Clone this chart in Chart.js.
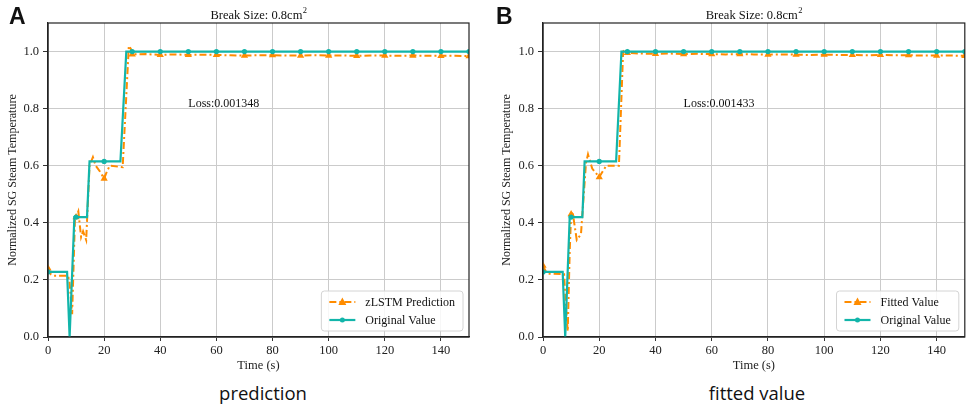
<!DOCTYPE html>
<html>
<head>
<meta charset="utf-8">
<script src="https://cdn.jsdelivr.net/npm/chart.js@4.4.0/dist/chart.umd.min.js"></script>
<style>
  body { margin: 0; background: #fff; width: 969px; height: 412px; overflow: hidden; position: relative; }
  .panel { position: absolute; top: 0; height: 373px; }
  #boxA { left: 0; width: 484px; }
  #boxB { left: 494px; width: 475px; }
  .tag { position: absolute; top: 3px; font: bold 23px 'Liberation Sans', Arial, sans-serif; color: #111; }
  .cap { position: absolute; top: 380px; width: 300px; text-align: center; font: 18.5px 'Open Sans', sans-serif; color: #111; }
</style>
</head>
<body>
<div class="panel" id="boxA"><canvas id="chartA"></canvas></div>
<div class="panel" id="boxB"><canvas id="chartB"></canvas></div>
<div class="tag" style="left:9px">A</div>
<div class="tag" style="left:496px">B</div>
<div class="cap" style="left:113px">prediction</div>
<div class="cap" style="left:607px">fitted value</div>

<script>
// ===========================
// DATA
// ===========================
const xTicks = [0, 20, 40, 60, 80, 100, 120, 140];
const yTicks = [0, 0.2, 0.4, 0.6, 0.8, 1.0];

// panel A - original value
const origTimeA = [0, 6.8, 7.7, 9.4, 10, 13.9, 14.8, 20, 25.8, 27.9, 30, 40, 50, 60, 70, 80, 90, 100, 110, 120, 130, 140, 150];
const origValA  = [0.228, 0.228, 0, 0.42, 0.42, 0.42, 0.615, 0.615, 0.615, 1.0, 1.0, 1.0, 1.0, 1.0, 1.0, 1.0, 1.0, 1.0, 1.0, 1.0, 1.0, 1.0, 1.0];

// panel A - zLSTM prediction
const predTimeA = [0, 1, 2, 7, 7.6, 8.6, 9.6, 10, 10.8, 11.8, 12.5, 13.6, 14.8, 16, 17, 18.5, 20, 21, 22, 26.6, 28.8, 29.5, 30,
                   35, 40, 45, 50, 55, 60, 65, 70, 75, 80, 85, 90, 95, 100, 105, 110, 115, 120, 125, 130, 135, 140, 145, 150];
const predValA  = [0.24, 0.22, 0.215, 0.215, 0.2, 0.08, 0.41, 0.42, 0.44, 0.35, 0.37, 0.34, 0.6, 0.63, 0.6, 0.58, 0.555, 0.58, 0.6, 0.595, 1.02, 1.01, 0.99,
                   0.991, 0.988, 0.99, 0.988, 0.989, 0.988, 0.987, 0.986, 0.987, 0.987, 0.986, 0.986, 0.987, 0.986, 0.986, 0.985, 0.986, 0.986, 0.985, 0.986, 0.985, 0.985, 0.985, 0.984];

// panel B - original value
const origTimeB = [0, 7, 7.9, 9.5, 10, 14, 14.8, 20, 26, 27.9, 30, 40, 50, 60, 70, 80, 90, 100, 110, 120, 130, 140, 150];
const origValB  = [0.228, 0.228, 0, 0.42, 0.42, 0.42, 0.615, 0.615, 0.615, 1.0, 1.0, 1.0, 1.0, 1.0, 1.0, 1.0, 1.0, 1.0, 1.0, 1.0, 1.0, 1.0, 1.0];

// panel B - fitted value
const predTimeB = [0, 1, 2, 7.5, 8.2, 8.8, 9.5, 10, 10.5, 12, 13.5, 15.3, 16, 17.5, 20, 22.5, 27, 28.5, 29, 30,
                   35, 40, 45, 50, 55, 60, 65, 70, 75, 80, 85, 90, 95, 100, 105, 110, 115, 120, 125, 130, 135, 140, 145, 150];
const predValB  = [0.25, 0.23, 0.222, 0.22, 0.1, 0.02, 0.3, 0.43, 0.44, 0.34, 0.36, 0.61, 0.64, 0.59, 0.56, 0.6, 0.6, 1.0, 1.005, 0.995,
                   0.993, 0.992, 0.993, 0.991, 0.992, 0.991, 0.99, 0.991, 0.99, 0.989, 0.99, 0.989, 0.988, 0.989, 0.988, 0.988, 0.987, 0.988, 0.987, 0.987, 0.986, 0.986, 0.986, 0.985];

const lossA = "Loss:0.001348";
const lossB = "Loss:0.001433";
const lossPos = [50, 0.818];   // where the loss text sits, in data units

// ===========================
// STYLE
// ===========================
const ORANGE = "#ff8c00";
const TEAL = "#12b5aa";
const SERIF = "'Liberation Serif', 'Times New Roman', serif";

function toPoints(ts, vs) {
    return ts.map((t, i) => ({ x: t, y: vs[i] }));
}

// markers only every 10 s, like matplotlib's markevery
function markEvery(r) {
    return c => (c.raw && c.raw.x % 10 === 0) ? r : 0;
}

// frame, title, loss text and legend drawn on top of the plot
const decorPlugin = {
    id: "decor",
    afterDraw(chart, args, o) {
        const ctx = chart.ctx, a = chart.chartArea;
        const xs = chart.scales.x, ys = chart.scales.y;
        ctx.save();

        // full box frame
        ctx.strokeStyle = "#222";
        ctx.lineWidth = 1.2;
        ctx.strokeRect(a.left, a.top, a.right - a.left, a.bottom - a.top);

        // title with superscript
        ctx.fillStyle = "#111";
        ctx.textBaseline = "alphabetic";
        ctx.font = "12.5px " + SERIF;
        const main = "Break Size: 0.8cm";
        const wMain = ctx.measureText(main).width;
        ctx.font = "8.5px " + SERIF;
        const wSup = ctx.measureText("2").width;
        const tx = (a.left + a.right) / 2 - (wMain + wSup) / 2;
        ctx.font = "12.5px " + SERIF;
        ctx.textAlign = "left";
        ctx.fillText(main, tx, 18.5);
        ctx.font = "8.5px " + SERIF;
        ctx.fillText("2", tx + wMain + 0.5, 12.5);

        // loss text
        ctx.font = "12px " + SERIF;
        ctx.textBaseline = "middle";
        ctx.fillText(o.loss, xs.getPixelForValue(lossPos[0]), ys.getPixelForValue(lossPos[1]));

        // legend, lower right inside the axes
        ctx.font = "12px " + SERIF;
        const ds = chart.data.datasets;
        const textW = Math.max(...ds.map(d => ctx.measureText(d.label).width));
        const w = 8 + 26 + 10 + textW + 8, h = 40;
        const lx = a.right - 6 - w, ly = a.bottom - 6 - h;
        ctx.beginPath();
        ctx.roundRect(lx, ly, w, h, 3);
        ctx.fillStyle = "rgba(255,255,255,0.85)";
        ctx.fill();
        ctx.strokeStyle = "#d4d4d4";
        ctx.lineWidth = 1;
        ctx.stroke();
        ds.forEach((d, i) => {
            const cy = ly + 11 + i * 18;
            ctx.strokeStyle = d.borderColor;
            ctx.lineWidth = d.borderWidth;
            ctx.setLineDash(d.borderDash || []);
            ctx.beginPath();
            ctx.moveTo(lx + 8, cy);
            ctx.lineTo(lx + 34, cy);
            ctx.stroke();
            ctx.setLineDash([]);
            ctx.fillStyle = d.borderColor;
            ctx.beginPath();
            if (d.pointStyle === "triangle") {
                ctx.moveTo(lx + 21, cy - 4.5);
                ctx.lineTo(lx + 25, cy + 3);
                ctx.lineTo(lx + 17, cy + 3);
                ctx.closePath();
            } else {
                ctx.arc(lx + 21, cy, 2.5, 0, Math.PI * 2);
            }
            ctx.fill();
            ctx.fillStyle = "#111";
            ctx.textAlign = "left";
            ctx.textBaseline = "middle";
            ctx.fillText(d.label, lx + 44, cy + 0.5);
        });
        ctx.restore();
    }
};

function makeChart(id, predLabel, predT, predV, origT, origV, loss, yWidth, padRight) {
    const ctx = document.getElementById(id).getContext("2d");
    return new Chart(ctx, {
        type: "line",
        data: {
            datasets: [{
                label: predLabel,
                data: toPoints(predT, predV),
                borderColor: ORANGE,
                backgroundColor: ORANGE,
                borderWidth: 2,
                borderDash: [7, 3, 2, 3],
                pointStyle: "triangle",
                pointRadius: markEvery(4.2),
                pointBorderWidth: 0,
                tension: 0,
                clip: 0,
                order: 2
            }, {
                label: "Original Value",
                data: toPoints(origT, origV),
                borderColor: TEAL,
                backgroundColor: TEAL,
                borderWidth: 2.2,
                pointStyle: "circle",
                pointRadius: markEvery(2.6),
                pointBorderWidth: 0,
                tension: 0,
                clip: 0,
                order: 1
            }]
        },
        options: {
            responsive: true,
            maintainAspectRatio: false,
            animation: false,
            layout: { padding: { top: 23, right: padRight, left: 0, bottom: 0 } },
            plugins: {
                legend: { display: false },
                tooltip: { enabled: false },
                decor: { loss: loss }
            },
            scales: {
                x: {
                    type: "linear",
                    min: 0, max: 150,
                    afterBuildTicks: s => { s.ticks = xTicks.map(v => ({ value: v })); },
                    afterFit: s => { s.height = 36; },
                    ticks: { color: "#222", font: { family: SERIF, size: 12.5 }, padding: 2, callback: v => String(v) },
                    grid: { color: "#cbcbcb", lineWidth: 1, tickLength: 4, tickColor: "#333" },
                    border: { display: true, color: "#222", width: 1.2 },
                    title: { display: true, text: "Time (s)", color: "#222", font: { family: SERIF, size: 12.5 }, padding: { top: 0, bottom: 0 } }
                },
                y: {
                    min: 0, max: 1.1,
                    afterBuildTicks: s => { s.ticks = yTicks.map(v => ({ value: v })); },
                    afterFit: s => { s.width = yWidth; },
                    ticks: { color: "#222", font: { family: SERIF, size: 12.5 }, padding: 4, callback: v => v.toFixed(1) },
                    grid: { color: "#cbcbcb", lineWidth: 1, tickLength: 5, tickColor: "#333" },
                    border: { display: true, color: "#222", width: 1.2 },
                    title: { display: true, text: "Normalized SG Steam Temperature", color: "#222", font: { family: SERIF, size: 12 }, padding: { top: 6, bottom: 0 } }
                }
            }
        },
        plugins: [decorPlugin]
    });
}

document.addEventListener("DOMContentLoaded", function () {
    makeChart("chartA", "zLSTM Prediction", predTimeA, predValA, origTimeA, origValA, lossA, 48, 15);
    makeChart("chartB", "Fitted Value", predTimeB, predValB, origTimeB, origValB, lossB, 49, 2.5);
});
</script>
</body>
</html>
